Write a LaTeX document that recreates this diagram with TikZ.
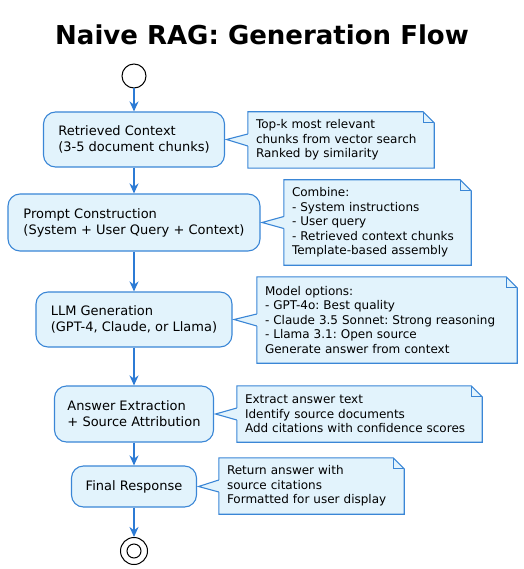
\documentclass[tikz,border=0pt]{standalone}
\usepackage{fontspec}
\setmainfont{DejaVu Sans}
\usetikzlibrary{arrows.meta}
\usetikzlibrary{backgrounds}
\frenchspacing

\definecolor{stepblue}{HTML}{3A86D6}
\definecolor{stepfill}{HTML}{E2F3FC}
\definecolor{flowblue}{HTML}{2C7BD5}

\begin{document}
\begin{tikzpicture}[x=1pt,y=-1pt,
        stepbox/.style={draw=stepblue,fill=stepfill,line width=1.1pt,rounded corners=12pt,
            align=left,font=\fontsize{13}{16}\selectfont,inner sep=0pt},
        notebox/.style={align=left,font=\fontsize{12}{14.5}\selectfont,inner xsep=8pt,inner ysep=0pt},
        flow/.style={-{Stealth[length=10pt,width=9pt]},draw=flowblue,line width=1.8pt}]
        \useasboundingbox (0,0) rectangle (523,569);

        \node[font=\fontsize{26}{30}\selectfont\bfseries,anchor=base] (title) at (262,45) {Naive RAG: Generation Flow};

        \node[circle,draw,line width=1pt,minimum size=24pt,inner sep=0pt] (start) at (134,76) {};

        \node[stepbox,minimum width=181pt,minimum height=55pt] (s1) at (134,139.5) {Retrieved Context\\(3-5 document chunks)};
        \node[stepbox,minimum width=252pt,minimum height=57pt] (s2) at (134,222.5) {Prompt Construction\\(System + User Query + Context)};
        \node[stepbox,minimum width=196pt,minimum height=55pt] (s3) at (134,319.5) {LLM Generation\\(GPT-4, Claude, or Llama)};
        \node[stepbox,minimum width=159pt,minimum height=56pt] (s4) at (134,414) {Answer Extraction\\+ Source Attribution};
        \node[stepbox,minimum width=125pt,minimum height=41pt] (s5) at (134,486.5) {Final Response};

        \node[circle,draw,line width=1pt,minimum size=27pt,inner sep=0pt] (stop) at (134,551) {};
        \draw[line width=1pt] (stop.center) circle[radius=7pt];

        \node[notebox,text width=170pt,minimum height=56pt] (n1) at (341,140) {Top-k most relevant\\chunks from vector search\\Ranked by similarity};
        \node[notebox,text width=171pt,minimum height=85pt] (n2) at (377.5,222.5) {Combine:\\- System instructions\\- User query\\- Retrieved context chunks\\Template-based assembly};
        \node[notebox,text width=244pt,minimum height=86pt] (n3) at (387,320) {Model options:\\- GPT-4o: Best quality\\- Claude 3.5 Sonnet: Strong reasoning\\- Llama 3.1: Open source\\Generate answer from context};
        \node[notebox,text width=229pt,minimum height=56pt] (n4) at (359.5,414) {Extract answer text\\Identify source documents\\Add citations with confidence scores};
        \node[notebox,text width=169pt,minimum height=56pt] (n5) at (311.5,486) {Return answer with\\source citations\\Formatted for user display};

        % folded notes
        \begin{scope}[on background layer]
        \foreach \n in {n1,n2,n3,n4,n5} {
            \filldraw[draw=stepblue,fill=stepfill,line width=1.1pt] (\n.north west) -- ([xshift=-11pt]\n.north east)
                -- ([yshift=-11pt]\n.north east) -- (\n.south east) -- (\n.south west) -- cycle;
            \draw[stepblue,line width=1.1pt] ([xshift=-11pt]\n.north east) |- ([yshift=-11pt]\n.north east);
        }
        \end{scope}

        \foreach \b/\n in {s1/n1,s2/n2,s3/n3,s4/n4,s5/n5} {
            \fill[stepfill] ([xshift=1pt,yshift=6pt]\n.west) -- ([xshift=1.5pt]\b.east) -- ([xshift=1pt,yshift=-6pt]\n.west) -- cycle;
            \draw[stepblue,line width=1.1pt] ([yshift=6pt]\n.west) -- ([xshift=1.5pt]\b.east) -- ([yshift=-6pt]\n.west);
        }

        \foreach \a/\b in {start/s1,s1/s2,s2/s3,s3/s4,s4/s5,s5/stop}
        \draw[flow] (\a) -- (\b);
    \end{tikzpicture}
\end{document}
